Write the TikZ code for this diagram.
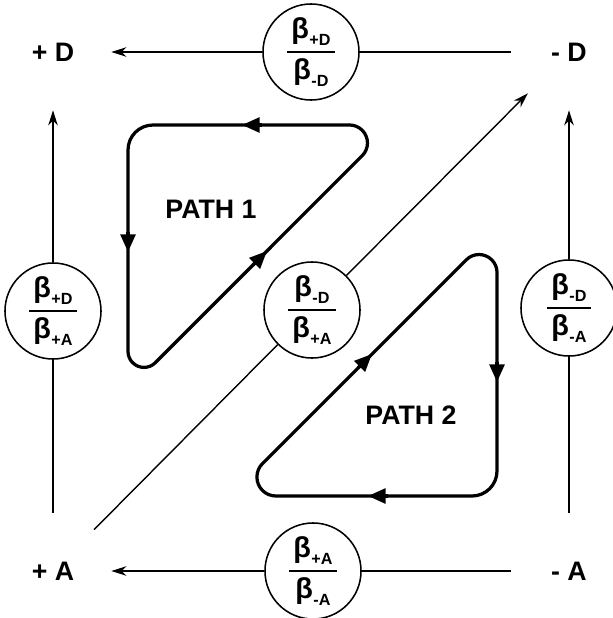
\documentclass[tikz,border=0pt]{standalone}
\usepackage{amsmath}
\usepackage{fontspec}
\setmainfont{Liberation Sans}
\usepackage{tikz}
\usetikzlibrary{arrows.meta}

\newcommand{\bsub}[1]{β\kern0.3pt\raisebox{-0.45ex}{\fontsize{11.5}{12}\selectfont #1}}
\newcommand{\ratio}[2]{$\genfrac{}{}{1.4pt}{0}{\text{\kern3pt\bsub{#1}\kern3pt}}{\text{\kern3pt\bsub{#2}\kern3pt}}$}

\begin{document}
\begin{tikzpicture}[x=0.025cm, y=-0.025cm,
  every node/.style={font=\fontsize{19}{22}\selectfont\bfseries},
  corner/.style={circle, minimum size=2.9cm, inner sep=0pt},
  ratio/.style={circle, draw, line width=1.1pt, minimum size=2.4cm, inner sep=0pt,
                font=\fontsize{20.5}{22}\selectfont\bfseries},
  link/.style={line width=1pt},
  arr/.style={link, -{Stealth[length=0.38cm, width=0.24cm]}},
  looppath/.style={line width=2.3pt, line join=round},
  tip/.style={line width=2.3pt, -{Triangle[length=0.44cm, width=0.37cm]}}]
  \useasboundingbox (0,0) rectangle (612,618);
  % corner states
  \node[corner] (pD) at (53,52) {+ D};
  \node[corner] (mD) at (569,52) {- D};
  \node[corner] (pA) at (53,571) {+ A};
  \node[corner] (mA) at (569,571) {- A};
  % rate ratios
  \node[ratio] (rT) at (311,52) {\ratio{+D}{-D}};
  \node[ratio] (rL) at (53,311) {\ratio{+D}{+A}};
  \node[ratio] (rC) at (312,310) {\ratio{-D}{+A}};
  \node[ratio] (rR) at (569,308) {\ratio{-D}{-A}};
  \node[ratio] (rB) at (313,571) {\ratio{+A}{-A}};
  % transitions
  \draw[link] (mD) -- (rT);  \draw[arr] (rT) -- (pD);
  \draw[link] (pA) -- (rL);  \draw[arr] (rL) -- (pD);
  \draw[link] (pA) -- (rC);  \draw[arr] (rC) -- (mD);
  \draw[link] (mA) -- (rR);  \draw[arr] (rR) -- (mD);
  \draw[link] (mA) -- (rB);  \draw[arr] (rB) -- (pA);
  % path 1
  \draw[looppath] (349.5,125) -- (153,125)
    arc[start angle=270, end angle=180, radius=25] -- (128,351.4)
    arc[start angle=180, end angle=45, radius=16] -- (362.2,155.7)
    arc[start angle=45, end angle=-90, radius=18] -- cycle;
  \draw[tip] (262,125) -- (242,125);
  \draw[tip] (128,232) -- (128,252);
  \draw[tip] (253,265) -- (267,251);
  \node (p1) at (211,209) {PATH 1};
  % path 2
  \draw[looppath] (262.5,463.6) -- (466.3,259.8)
    arc[start angle=225, end angle=360, radius=18] -- (497,471)
    arc[start angle=0, end angle=90, radius=25] -- (275.9,496)
    arc[start angle=90, end angle=225, radius=19] -- cycle;
  \draw[tip] (497,362) -- (497,382);
  \draw[tip] (388,496) -- (368,496);
  \draw[tip] (358,368) -- (372,354);
  \node (p2) at (411,415) {PATH 2};
\end{tikzpicture}
\end{document}
